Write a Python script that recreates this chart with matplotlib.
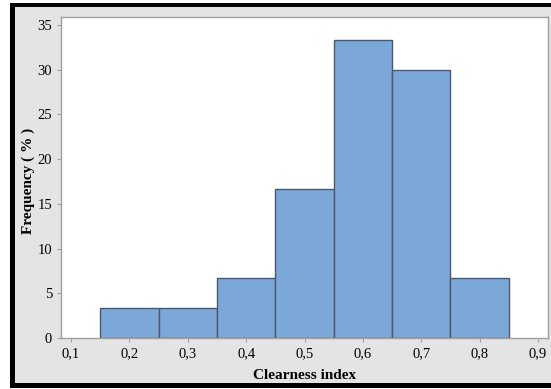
import numpy as np
import matplotlib
matplotlib.use("Agg")
import matplotlib.pyplot as plt
from matplotlib.patches import Rectangle

# histogram of clearness index (percent of days)
bin_edges = [0.15, 0.25, 0.35, 0.45, 0.55, 0.65, 0.75, 0.85]
freq = [3.33, 3.33, 6.67, 16.67, 33.33, 30.0, 6.67]
xticks = [0.1, 0.2, 0.3, 0.4, 0.5, 0.6, 0.7, 0.8, 0.9]
yticks = [0, 5, 10, 15, 20, 25, 30, 35]

plt.rcParams['font.family'] = ['Liberation Serif', 'DejaVu Serif']

W, H = 551, 389
fig = plt.figure(figsize=(W / 100, H / 100), dpi=100)
fig.patch.set_facecolor('white')

# gray panel and black frame (left, top, bottom)
fig.patches.append(Rectangle((15 / W, 1 - 383 / H), (W - 15) / W, 376 / H,
                             transform=fig.transFigure, facecolor='#e4e4e4',
                             edgecolor='none', zorder=0))
for (x0, y0, w, h) in [(10, 3, 5, 385), (10, 3, W - 10, 4), (10, 383, W - 10, 5)]:
    fig.patches.append(Rectangle((x0 / W, 1 - (y0 + h) / H), w / W, h / H,
                                 transform=fig.transFigure, facecolor='black',
                                 edgecolor='none', zorder=1))

ax = fig.add_axes([61 / W, 1 - 338 / H, 487 / W, 321 / H])
ax.set_zorder(5)
ax.set_facecolor('white')

lefts = np.array(bin_edges[:-1])
widths = np.diff(bin_edges)
ax.bar(lefts, freq, width=widths, align='edge', color='#7ba7d9',
       edgecolor='#4d5866', linewidth=1.0)

ax.set_xlim(0.083, 0.917)
ax.set_ylim(0, 35.9)
ax.set_xticks(xticks)
ax.set_xticklabels([f"{t:.1f}".replace('.', ',') for t in xticks])
ax.set_yticks(yticks)

for s in ax.spines.values():
    s.set_color('#a0a0a0')
    s.set_linewidth(1.0)
ax.tick_params(colors='#a0a0a0', labelcolor='black', length=3, width=0.8,
               labelsize=10.5)

ax.set_xlabel('Clearness index', fontsize=11, fontweight='bold')
ax.set_ylabel('Frequency ( % )', fontsize=11, fontweight='bold')
ax.xaxis.set_label_coords(0.5, -0.098)
ax.yaxis.set_label_coords(-0.054, 0.49)

fig.savefig('out.png', dpi=100)
